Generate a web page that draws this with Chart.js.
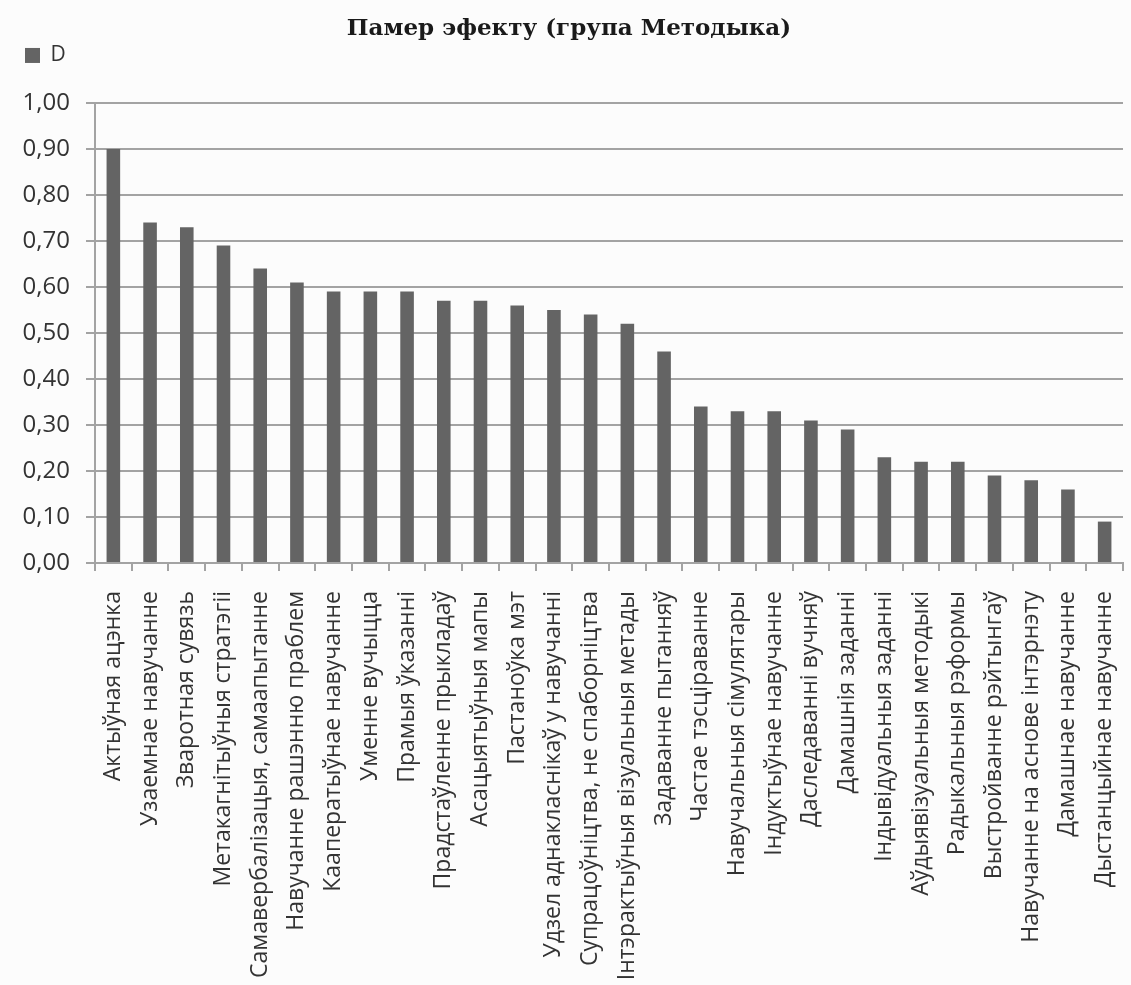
<!DOCTYPE html>
<html>
<head>
<meta charset="utf-8">
<script src="https://cdn.jsdelivr.net/npm/chart.js@4/dist/chart.umd.min.js"></script>
<style>
  html, body { margin: 0; padding: 0; background: #fcfcfc; }
  #wrap { width: 1131px; height: 985px; }
</style>
</head>
<body>
<div id="wrap"><canvas id="c" width="1131" height="985"></canvas></div>
<script>
// Effect size by method (Belarusian labels)
const categories = [
  'Актыўная ацэнка',
  'Узаемнае навучанне',
  'Зваротная сувязь',
  'Метакагнітыўныя стратэгіі',
  'Самавербалізацыя, самаапытанне',
  'Навучанне рашэнню праблем',
  'Кааператыўнае навучанне',
  'Уменне вучыцца',
  'Прамыя ўказанні',
  'Прадстаўленне прыкладаў',
  'Асацыятыўныя мапы',
  'Пастаноўка мэт',
  'Удзел аднакласнікаў у навучанні',
  'Супрацоўніцтва, не спаборніцтва',
  'Інтэрактыўныя візуальныя метады',
  'Задаванне пытанняў',
  'Частае тэсціраванне',
  'Навучальныя сімулятары',
  'Індуктыўнае навучанне',
  'Даследаванні вучняў',
  'Дамашнія заданні',
  'Індывідуальныя заданні',
  'Аўдыявізуальныя методыкі',
  'Радыкальныя рэформы',
  'Выстройванне рэйтынгаў',
  'Навучанне на аснове інтэрнэту',
  'Дамашнае навучанне',
  'Дыстанцыйнае навучанне'
];

const valuesD = [
  0.90, 0.74, 0.73, 0.69, 0.64, 0.61, 0.59, 0.59, 0.59, 0.57,
  0.57, 0.56, 0.55, 0.54, 0.52, 0.46, 0.34, 0.33, 0.33, 0.31,
  0.29, 0.23, 0.22, 0.22, 0.19, 0.18, 0.16, 0.09
];

const seriesName = 'D';
const chartTitle = 'Памер эфекту (група Методыка)';
const yMin = 0, yMax = 1, yStep = 0.1;

const GRID = '#a3a3a3';
const BAR = '#646464';
const TEXT = '#333333';

const bgPlugin = {
  id: 'bg',
  beforeDraw(chart) {
    const ctx = chart.ctx;
    ctx.save();
    ctx.fillStyle = '#fcfcfc';
    ctx.fillRect(0, 0, chart.width, chart.height);
    ctx.restore();
  }
};

new Chart(document.getElementById('c'), {
  type: 'bar',
  data: {
    labels: categories,
    datasets: [{
      label: seriesName,
      data: valuesD,
      backgroundColor: BAR,
      borderWidth: 0,
      barPercentage: 0.37,
      categoryPercentage: 1.0
    }]
  },
  options: {
    responsive: false,
    animation: false,
    devicePixelRatio: 1,
    layout: { padding: { left: 15, right: 8, top: 0, bottom: 0 } },
    plugins: {
      title: {
        display: true,
        text: chartTitle,
        font: { family: 'DejaVu Serif', weight: 'bold', size: 23, lineHeight: 0.52 },
        color: '#1a1a1a',
        padding: { top: 23, bottom: 0 }
      },
      // empty band between the legend row and the plot area
      subtitle: {
        display: true,
        text: '',
        weight: 500,
        font: { size: 12, lineHeight: 0 },
        padding: { top: 27, bottom: 0 }
      },
      legend: {
        display: true,
        align: 'start',
        labels: {
          boxWidth: 15,
          boxHeight: 15,
          padding: 10,
          color: TEXT,
          font: { family: 'Open Sans', size: 21 }
        }
      },
      tooltip: { enabled: false }
    },
    scales: {
      x: {
        offset: true,
        grid: {
          offset: true,
          drawOnChartArea: false,
          drawTicks: true,
          tickLength: 8,
          color: GRID,
          lineWidth: 2
        },
        border: { display: true, color: GRID, width: 2 },
        ticks: {
          autoSkip: false,
          maxRotation: 90,
          minRotation: 90,
          padding: 20,
          color: TEXT,
          font: { family: 'Open Sans', size: 23 }
        },
        afterFit(scale) {
          scale.height = 422;
          scale.paddingLeft = 0;
          scale.paddingRight = 0;
        }
      },
      y: {
        min: yMin,
        max: yMax,
        grid: {
          color: GRID,
          lineWidth: 2,
          drawTicks: true,
          tickLength: 9
        },
        border: { display: true, color: GRID, width: 2 },
        ticks: {
          stepSize: yStep,
          padding: 16,
          color: TEXT,
          font: { family: 'Open Sans', size: 24 },
          callback: (v) => Number(v).toFixed(2).replace('.', ',')
        },
        afterFit(scale) {
          scale.width = 80;
        }
      }
    }
  },
  plugins: [bgPlugin]
});
</script>
</body>
</html>
